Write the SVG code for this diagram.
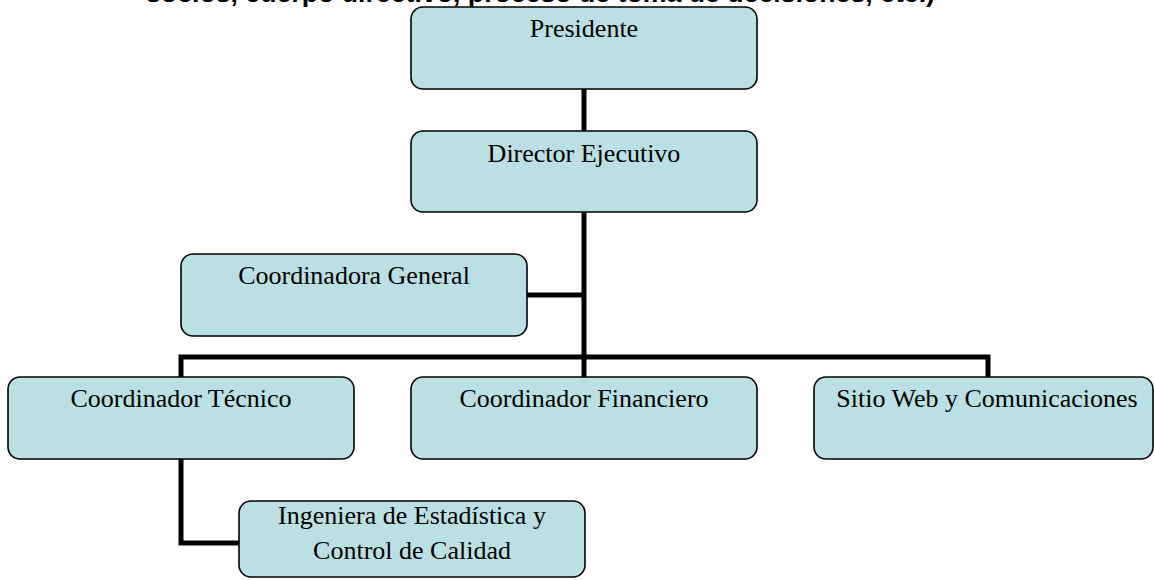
<svg xmlns="http://www.w3.org/2000/svg" width="1154" height="580" viewBox="0 0 1154 580">
<style>
.box{fill:#bae0e3;stroke:#000;stroke-width:1.6}
.lbl{font-family:"Liberation Serif","Times New Roman",serif;font-size:26px;fill:#000;text-anchor:middle}
.conn{stroke:#000;stroke-width:5;fill:none;stroke-linecap:square}
.head{font-family:"Liberation Sans",Arial,sans-serif;font-size:26.7px;font-weight:bold;fill:#000}
</style>
<rect width="1154" height="580" fill="#fff"/>
<text class="head" x="146" y="1.5">socios, cuerpo directivo, proceso de toma de decisiones, etc.)</text>
<g id="connectors">
<path class="conn" d="M584 89V131M584 212V377M527 295H584M181 357H988M181 357V377M988 357V377M181 459V543H239"/>
</g>
<g id="presidente">
<rect class="box" x="411" y="7" width="346" height="82" rx="12"/>
<text class="lbl" x="584" y="37">Presidente</text>
</g>
<g id="director">
<rect class="box" x="411" y="131" width="346" height="81" rx="12"/>
<text class="lbl" x="584" y="162">Director Ejecutivo</text>
</g>
<g id="coordinadora-general">
<rect class="box" x="181" y="254" width="346" height="82" rx="12"/>
<text class="lbl" x="354" y="284">Coordinadora General</text>
</g>
<g id="coordinador-tecnico">
<rect class="box" x="8" y="377" width="346" height="82" rx="12"/>
<text class="lbl" x="181" y="407">Coordinador Técnico</text>
</g>
<g id="coordinador-financiero">
<rect class="box" x="411" y="377" width="346" height="82" rx="12"/>
<text class="lbl" x="584" y="407">Coordinador Financiero</text>
</g>
<g id="sitio-web">
<rect class="box" x="814" y="377" width="339" height="82" rx="12"/>
<text class="lbl" x="987" y="407">Sitio Web y Comunicaciones</text>
</g>
<g id="ingeniera">
<rect class="box" x="239" y="501" width="346" height="76" rx="12"/>
<text class="lbl" x="412" y="524">Ingeniera de Estadística y</text>
<text class="lbl" x="412" y="559">Control de Calidad</text>
</g>
</svg>
